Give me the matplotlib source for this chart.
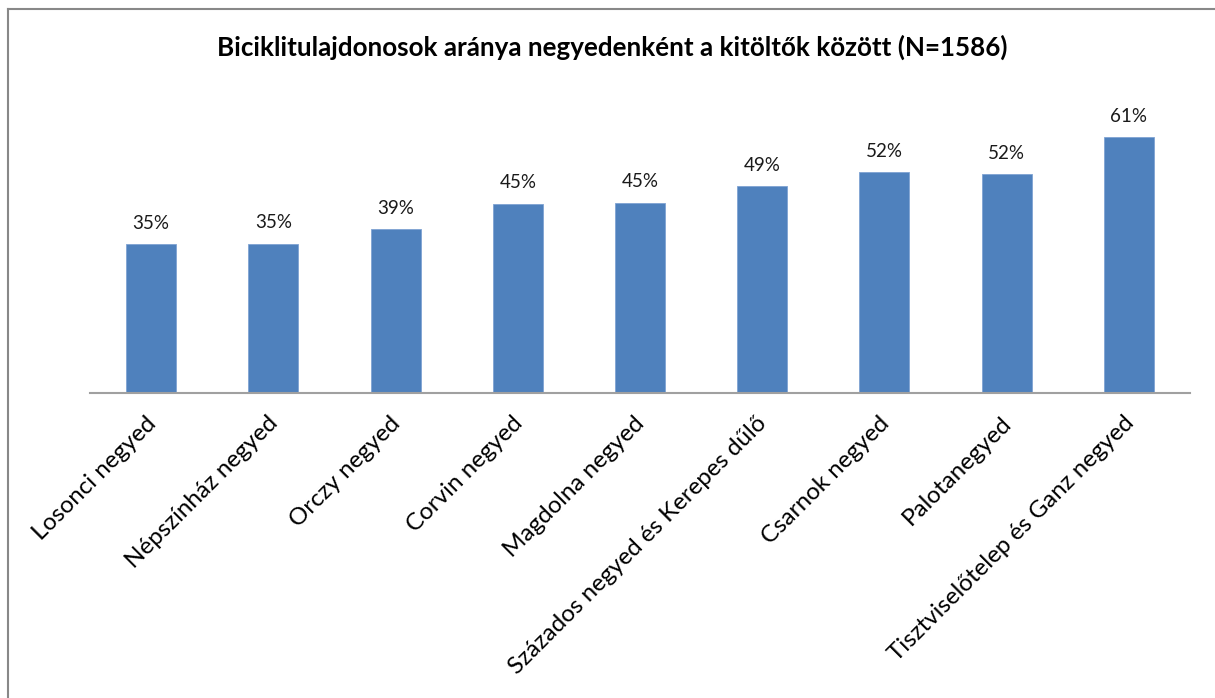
import matplotlib.pyplot as plt
from matplotlib.lines import Line2D
from matplotlib.transforms import ScaledTranslation

# =========================
# DATA
# =========================
categories = [
    "Losonci negyed",
    "Népszínház negyed",
    "Orczy negyed",
    "Corvin negyed",
    "Magdolna negyed",
    "Százados negyed és Kerepes dűlő",
    "Csarnok negyed",
    "Palotanegyed",
    "Tisztviselőtelep és Ganz negyed",
]
shares = [0.353, 0.354, 0.388, 0.449, 0.452, 0.491, 0.524, 0.519, 0.607]
value_labels = ["35%", "35%", "39%", "45%", "45%", "49%", "52%", "52%", "61%"]
title = "Biciklitulajdonosok aránya negyedenként a kitöltők között (N=1586)"

BAR_COLOR = "#4F81BD"
FONT = ["Lato", "DejaVu Sans"]

# =========================
# FIGURE
# =========================
W, H = 1215, 698
fig = plt.figure(figsize=(W / 100, H / 100), dpi=100)
ax = fig.add_axes([90 / W, 1 - 393 / H, 1100 / W, 295 / H])

x = range(len(categories))
ax.bar(x, shares, width=0.41, color=BAR_COLOR, edgecolor="#7FA3D3", linewidth=0.6, zorder=2)

for xi, v, lab in zip(x, shares, value_labels):
    ax.annotate(lab, (xi, v), xytext=(0, 9), textcoords="offset points",
                ha="center", va="bottom", fontsize=13.5, family=FONT, color="#1a1a1a")

ax.set_xlim(-0.5, len(categories) - 0.5)
ax.set_ylim(0, 0.7)
ax.set_yticks([])
for side in ["top", "right", "left"]:
    ax.spines[side].set_visible(False)
ax.spines["bottom"].set_color("#A0A0A0")
ax.spines["bottom"].set_linewidth(1.5)

ax.set_xticks(list(x))
ax.set_xticklabels(categories, rotation=45, ha="right", va="top",
                   rotation_mode="anchor", fontsize=17.4, family=FONT)
ax.tick_params(axis="x", length=0, pad=14)
shift = ScaledTranslation(-6 / 100, 0, fig.dpi_scale_trans)
for lbl in ax.get_xticklabels():
    lbl.set_transform(lbl.get_transform() + shift)

fig.text(612 / W, 1 - 47 / H, title, ha="center", va="center",
         fontsize=18.7, fontweight="bold", family=FONT)

# chart frame (only top and left edges visible)
fig.add_artist(Line2D([8 / W, 1], [1 - 9 / H, 1 - 9 / H], color="#888888", linewidth=1.5,
                      transform=fig.transFigure))
fig.add_artist(Line2D([8 / W, 8 / W], [0, 1 - 9 / H], color="#888888", linewidth=1.5,
                      transform=fig.transFigure))

fig.savefig("out.png", dpi=100, facecolor="white")
